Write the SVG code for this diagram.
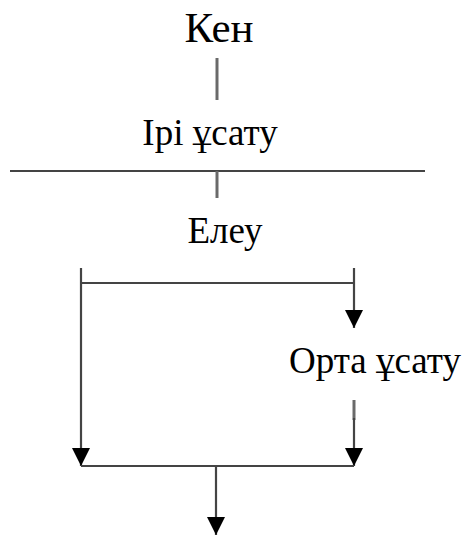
<svg xmlns="http://www.w3.org/2000/svg" width="464" height="537" viewBox="0 0 464 537">
  <style>
    .t { font-family: "Liberation Serif", "Times New Roman", serif; fill: #000; font-size: 37px; text-anchor: middle; }
    .ln { stroke: #444; stroke-width: 2.2; fill: none; }
    .st { stroke: #6a6a6a; stroke-width: 3; fill: none; }
  </style>
  <defs>
    <marker id="ah" markerUnits="userSpaceOnUse" markerWidth="19" markerHeight="19" refX="18" refY="9" orient="auto">
      <path d="M0,0 L18,9 L0,18 z" fill="#000"/>
    </marker>
  </defs>
  <rect width="464" height="537" fill="#fff"/>
  <g id="ken"><text class="t" x="219" y="42" style="font-size:43px">Кен</text></g>
  <g id="iri-usatu"><text class="t" x="210" y="145">Ірі ұсату</text></g>
  <g id="eleu"><text class="t" x="225" y="243">Елеу</text></g>
  <g id="orta-usatu"><text class="t" x="375" y="373">Орта ұсату</text></g>
  <g id="connectors">
    <line class="st" x1="217" y1="58" x2="217" y2="100"/>
    <line class="ln" x1="10" y1="171" x2="425" y2="171"/>
    <line class="st" x1="217" y1="171" x2="217" y2="198"/>
    <line class="ln" x1="81" y1="268" x2="81" y2="283"/>
    <line class="ln" x1="81" y1="283" x2="354" y2="283"/>
    <line class="ln" x1="354" y1="268" x2="354" y2="328" marker-end="url(#ah)"/>
    <line class="ln" x1="81" y1="283" x2="81" y2="466" marker-end="url(#ah)"/>
    <line class="st" x1="354" y1="400" x2="354" y2="420"/>
    <line class="ln" x1="354" y1="418" x2="354" y2="466" marker-end="url(#ah)"/>
    <line class="ln" x1="81" y1="466" x2="354" y2="466"/>
    <line class="ln" x1="216" y1="466" x2="216" y2="535" marker-end="url(#ah)"/>
  </g>
</svg>
